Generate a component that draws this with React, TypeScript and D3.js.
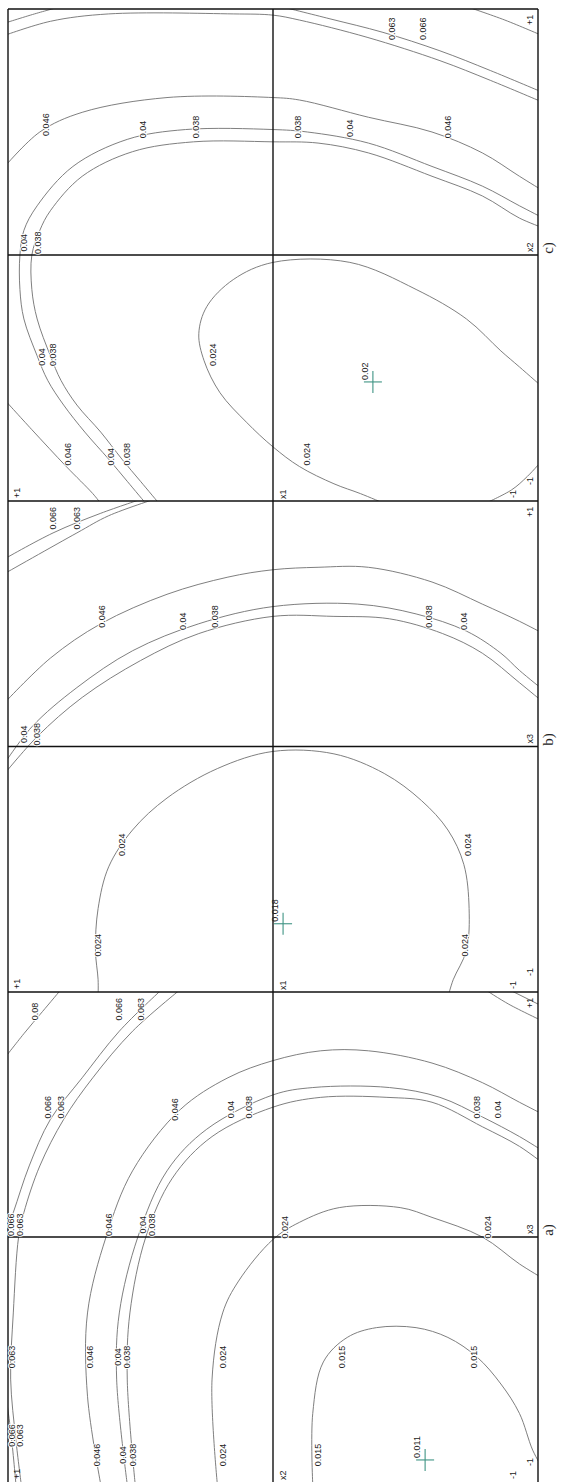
import React from "react";
import * as d3 from "d3";

type Pt = [number, number];
type Contour = { level: string; pts: Pt[] };
type Label = [string, number, number];

// panel order top to bottom: c), b), a)
const panelNames = ["c)", "b)", "a)"];
const bottomFactor = ["x1", "x1", "x2"];
const rightFactor = ["x2", "x3", "x3"];
const codedTicks = ["+1", "-1"];

// contour lines in coded units [bottom factor, right factor]
const contoursC: Contour[] = [
  { level: "0.024", pts: [[-1.02, -0.54], [-0.93, -0.455], [-0.86, -0.39], [-0.73, -0.26], [-0.54, -0.14], [-0.29, -0.03], [0, -0.03], [0.15, -0.1], [0.25, -0.21], [0.28, -0.32], [0.26, -0.43], [0.2, -0.56], [0.1, -0.68], [0, -0.78], [-0.1, -0.86], [-0.23, -0.93], [-0.33, -0.97], [-0.42, -1.01]] },
  { level: "0.024", pts: [[-0.8, -1.01], [-0.9, -0.955], [-0.96, -0.9], [-1.02, -0.83]] },
  { level: "0.038", pts: [[0.43, -1.01], [0.5, -0.92], [0.57, -0.83], [0.65, -0.72], [0.74, -0.61], [0.8, -0.51], [0.84, -0.41], [0.89, -0.26], [0.91, -0.14], [0.91, 0], [0.88, 0.1], [0.84, 0.18], [0.72, 0.32], [0.53, 0.42], [0.3, 0.46], [0, 0.46], [-0.17, 0.455], [-0.36, 0.415], [-0.6, 0.32], [-0.79, 0.24], [-0.93, 0.15], [-1.02, 0.11]] },
  { level: "0.04", pts: [[0.48, -1.01], [0.55, -0.92], [0.62, -0.83], [0.71, -0.72], [0.79, -0.61], [0.85, -0.51], [0.89, -0.41], [0.94, -0.26], [0.955, -0.14], [0.955, 0], [0.94, 0.1], [0.89, 0.2], [0.755, 0.36], [0.55, 0.47], [0.33, 0.51], [0, 0.51], [-0.13, 0.5], [-0.36, 0.455], [-0.6, 0.36], [-0.79, 0.28], [-0.93, 0.2], [-1.02, 0.15]] },
  { level: "0.046", pts: [[1.02, 0.35], [0.88, 0.5], [0.72, 0.58], [0.4, 0.64], [0, 0.64], [-0.1, 0.63], [-0.36, 0.56], [-0.6, 0.5], [-0.79, 0.415], [-0.93, 0.32], [-1.02, 0.26]] },
  { level: "0.046", pts: [[1.02, -0.58], [0.91, -0.71], [0.78, -0.86], [0.68, -0.97], [0.65, -1.01]] },
  { level: "0.063", pts: [[1.02, 0.89], [0.84, 0.95], [0.62, 0.98], [0.15, 0.98], [0, 0.975], [-0.1, 0.955], [-0.355, 0.885], [-0.63, 0.79], [-0.82, 0.71], [-1.02, 0.62]] },
  { level: "0.066", pts: [[1.02, 0.94], [0.9, 0.98], [0.8, 1.01]] },
  { level: "0.066", pts: [[-0.03, 1.01], [-0.215, 0.96], [-0.415, 0.905], [-0.63, 0.83], [-0.82, 0.75], [-1.02, 0.66]] },
  { level: "0.08", pts: [[-0.73, 1.01], [-0.875, 0.955], [-1.02, 0.89]] },
];

const contoursB: Contour[] = [
  { level: "0.024", pts: [[0.66, -1.02], [0.66, -0.95], [0.67, -0.83], [0.66, -0.66], [0.62, -0.49], [0.53, -0.34], [0.4, -0.21], [0.21, -0.09], [0, -0.02], [-0.23, -0.03], [-0.42, -0.11], [-0.56, -0.22], [-0.66, -0.34], [-0.72, -0.48], [-0.74, -0.66], [-0.73, -0.83], [-0.68, -0.95], [-0.66, -1.02]] },
  { level: "0.038", pts: [[1.02, -0.12], [0.89, 0.04], [0.72, 0.2], [0.5, 0.35], [0.28, 0.46], [0, 0.53], [-0.23, 0.53], [-0.44, 0.52], [-0.64, 0.46], [-0.79, 0.38], [-0.93, 0.26], [-1.02, 0.18]] },
  { level: "0.04", pts: [[1.02, -0.08], [0.91, 0.08], [0.74, 0.24], [0.53, 0.39], [0.28, 0.5], [0, 0.57], [-0.32, 0.58], [-0.54, 0.54], [-0.73, 0.47], [-0.86, 0.38], [-0.93, 0.31], [-1.02, 0.23]] },
  { level: "0.046", pts: [[1.02, 0.17], [0.84, 0.36], [0.65, 0.5], [0.4, 0.62], [0.17, 0.69], [0, 0.72], [-0.17, 0.73], [-0.36, 0.73], [-0.6, 0.67], [-0.79, 0.58], [-0.93, 0.51], [-1.02, 0.46]] },
  { level: "0.066", pts: [[1.02, 0.76], [0.83, 0.87], [0.65, 0.95], [0.49, 1.01]] },
  { level: "0.063", pts: [[1.02, 0.7], [0.74, 0.87], [0.62, 0.94], [0.44, 1.01]] },
];

const contoursA: Contour[] = [
  { level: "0.015", pts: [[-0.15, -1.01], [-0.15, -0.72], [-0.19, -0.51], [-0.28, -0.41], [-0.39, -0.37], [-0.54, -0.37], [-0.66, -0.41], [-0.77, -0.49], [-0.86, -0.6], [-0.93, -0.72], [-0.98, -0.87], [-1.02, -0.95]] },
  { level: "0.024", pts: [[0.21, -1.01], [0.23, -0.58], [0.19, -0.31], [0.13, -0.18], [0, -0.01], [-0.1, 0.06], [-0.25, 0.12], [-0.48, 0.12], [-0.6, 0.08], [-0.79, 0], [-0.93, -0.11], [-1.02, -0.17]] },
  { level: "0.038", pts: [[0.52, -1.01], [0.55, -0.58], [0.54, -0.31], [0.48, 0], [0.38, 0.24], [0.23, 0.41], [0, 0.53], [-0.18, 0.57], [-0.43, 0.57], [-0.6, 0.55], [-0.79, 0.45], [-0.93, 0.37], [-1.02, 0.3]] },
  { level: "0.04", pts: [[0.55, -1.01], [0.59, -0.58], [0.58, -0.31], [0.51, 0], [0.4, 0.27], [0.25, 0.44], [0, 0.58], [-0.15, 0.61], [-0.44, 0.61], [-0.63, 0.57], [-0.79, 0.49], [-0.93, 0.41], [-1.02, 0.35]] },
  { level: "0.046", pts: [[0.65, -1.01], [0.7, -0.65], [0.7, -0.31], [0.63, 0], [0.53, 0.27], [0.35, 0.52], [0.17, 0.65], [0, 0.72], [-0.18, 0.76], [-0.36, 0.76], [-0.6, 0.71], [-0.79, 0.63], [-0.93, 0.55], [-1.02, 0.5]] },
  { level: "0.063", pts: [[0.35, 1.01], [0.53, 0.84], [0.68, 0.65], [0.79, 0.48], [0.88, 0.29], [0.94, 0.1], [0.96, 0], [0.98, -0.31], [0.99, -0.58], [0.97, -0.83], [0.95, -1.01]] },
  { level: "0.066", pts: [[0.42, 1.01], [0.58, 0.84], [0.72, 0.65], [0.84, 0.48], [0.92, 0.29], [0.98, 0.1], [1.02, -0.02]] },
  { level: "0.066", pts: [[1.02, -0.56], [0.99, -0.79], [0.97, -1.01]] },
  { level: "0.08", pts: [[1.02, 0.72], [0.94, 0.83], [0.87, 0.92], [0.8, 1.01]] },
  { level: "0.063", pts: [[-0.8, 1.01], [-0.89, 0.95], [-1.02, 0.88]] },
  { level: "0.066", pts: [[-0.89, 1.01], [-1.02, 0.94]] },
];

// contour labels [text, bottom factor, right factor]
const labelsC: Label[] = [
  ["0.063", -0.45, 0.92], ["0.066", -0.565, 0.92],
  ["0.046", 0.855, 0.53], ["0.04", 0.49, 0.51], ["0.038", 0.29, 0.52],
  ["0.038", -0.095, 0.52], ["0.04", -0.29, 0.515], ["0.046", -0.66, 0.52],
  ["0.04", 0.94, 0.05], ["0.038", 0.885, 0.05],
  ["0.04", 0.87, -0.415], ["0.038", 0.83, -0.405], ["0.024", 0.225, -0.405],
  ["0.046", 0.775, -0.81], ["0.04", 0.61, -0.82], ["0.038", 0.55, -0.81], ["0.024", -0.13, -0.81],
];

const labelsB: Label[] = [
  ["0.066", 0.83, 0.93], ["0.063", 0.74, 0.93],
  ["0.046", 0.645, 0.53], ["0.04", 0.34, 0.51], ["0.038", 0.22, 0.53],
  ["0.038", -0.59, 0.53], ["0.04", -0.72, 0.51],
  ["0.04", 0.94, 0.05], ["0.038", 0.89, 0.05],
  ["0.024", 0.57, -0.4], ["0.024", 0.66, -0.81], ["0.024", -0.735, -0.4], ["0.024", -0.725, -0.81],
];

const labelsA: Label[] = [
  ["0.08", 0.9, 0.92], ["0.066", 0.58, 0.93], ["0.063", 0.5, 0.93],
  ["0.066", 0.85, 0.53], ["0.063", 0.8, 0.53], ["0.046", 0.37, 0.52], ["0.04", 0.16, 0.52], ["0.038", 0.09, 0.53],
  ["0.038", -0.77, 0.53], ["0.04", -0.85, 0.52],
  ["0.066", 0.99, 0.05], ["0.063", 0.955, 0.05], ["0.046", 0.62, 0.05], ["0.04", 0.49, 0.05], ["0.038", 0.455, 0.05],
  ["0.024", -0.045, 0.04], ["0.024", -0.81, 0.04],
  ["0.063", 0.985, -0.49], ["0.046", 0.69, -0.49], ["0.04", 0.585, -0.49], ["0.038", 0.55, -0.49],
  ["0.024", 0.19, -0.49], ["0.015", -0.26, -0.49], ["0.015", -0.76, -0.49],
  ["0.066", 0.985, -0.81], ["0.063", 0.955, -0.81], ["0.046", 0.665, -0.89], ["0.04", 0.565, -0.89],
  ["0.038", 0.53, -0.89], ["0.024", 0.19, -0.89], ["0.015", -0.17, -0.89],
];

// minimum of each surface [value, bottom factor, right factor]
const minima: Label[] = [
  ["0.02", -0.377, -0.516],
  ["0.018", -0.038, -0.722],
  ["0.011", -0.574, -0.91],
];

const contours = [contoursC, contoursB, contoursA];
const labels = [labelsC, labelsB, labelsA];

const W = 577;
const H = 1482;
const left = 8;
const right = 538;
const tops = [9, 501, 992];
const bottoms = [501, 992, 1482];

const sans = "'Liberation Sans', Arial, sans-serif";

function VText({ x, y, children, anchor = "middle", size = 9, family = sans, halo = false }: any) {
  return (
    <text
      transform={`translate(${x},${y}) rotate(-90)`}
      textAnchor={anchor}
      dominantBaseline="central"
      fontSize={size}
      fontFamily={family}
      fill="#222"
      stroke={halo ? "#fff" : "none"}
      strokeWidth={halo ? 2 : 0}
      paintOrder="stroke"
    >
      {children}
    </text>
  );
}

function Panel({ idx }: { idx: number }) {
  const top = tops[idx];
  const bottom = bottoms[idx];
  const x = d3.scaleLinear().domain([1, -1]).range([left, right]);
  const y = d3.scaleLinear().domain([-1, 1]).range([bottom, top]);
  const line = d3
    .line<Pt>()
    .x((d) => x(d[0]))
    .y((d) => y(d[1]))
    .curve(d3.curveCatmullRom.alpha(0.5));
  const cx = x(0);
  const cy = y(0);
  const clipId = `clip-${idx}`;
  const [minText, mu, mv] = minima[idx];
  const mx = x(mu);
  const my = y(mv);

  return (
    <g>
      <defs>
        <clipPath id={clipId}>
          <rect x={left} y={top} width={right - left} height={bottom - top} />
        </clipPath>
      </defs>
      <g clipPath={`url(#${clipId})`}>
        {contours[idx].map((c, k) => (
          <path key={k} d={line(c.pts) || ""} fill="none" stroke="#707070" strokeWidth={0.9} />
        ))}
      </g>

      {/* frame and centre cross */}
      <g stroke="#111" strokeWidth={1.4}>
        <line x1={left} x2={right} y1={top} y2={top} />
        <line x1={left} x2={left} y1={top} y2={bottom} />
        <line x1={right} x2={right} y1={top} y2={bottom} />
        <line x1={cx} x2={cx} y1={top} y2={bottom} />
        <line x1={left} x2={right} y1={cy} y2={cy} />
      </g>

      {labels[idx].map(([t, u, v], k) => (
        <VText key={k} x={x(u)} y={y(v)} halo>
          {t}
        </VText>
      ))}

      {/* minimum marker */}
      <g stroke="#3f9484" strokeWidth={1.1}>
        <line x1={mx - 9} x2={mx + 9} y1={my} y2={my} />
        <line x1={mx} x2={mx} y1={my - 11} y2={my + 11} />
      </g>
      <VText x={mx - 8} y={my - 2} anchor="start">
        {minText}
      </VText>

      {/* coded axis labels */}
      <VText x={left + 9} y={bottom - 3} anchor="start">{codedTicks[0]}</VText>
      <VText x={cx + 10} y={bottom - 2} anchor="start">{bottomFactor[idx]}</VText>
      <VText x={right - 25} y={bottom - 3} anchor="start">{codedTicks[1]}</VText>
      <VText x={right - 8} y={bottom - 16} anchor="start">{codedTicks[1]}</VText>
      <VText x={right - 8} y={cy - 3} anchor="start">{rightFactor[idx]}</VText>
      <VText x={right - 8} y={top + 16} anchor="start">{codedTicks[0]}</VText>

      <VText x={548} y={cy - 7} size={15} family="'Liberation Serif', 'Times New Roman', serif">
        {panelNames[idx]}
      </VText>
    </g>
  );
}

export default function App() {
  return (
    <svg
      width={W}
      height={H}
      style={{ position: "absolute", left: 0, top: 0, display: "block" }}
    >
      <rect width={W} height={H} fill="#fff" />
      {panelNames.map((_, i) => (
        <Panel key={i} idx={i} />
      ))}
    </svg>
  );
}
